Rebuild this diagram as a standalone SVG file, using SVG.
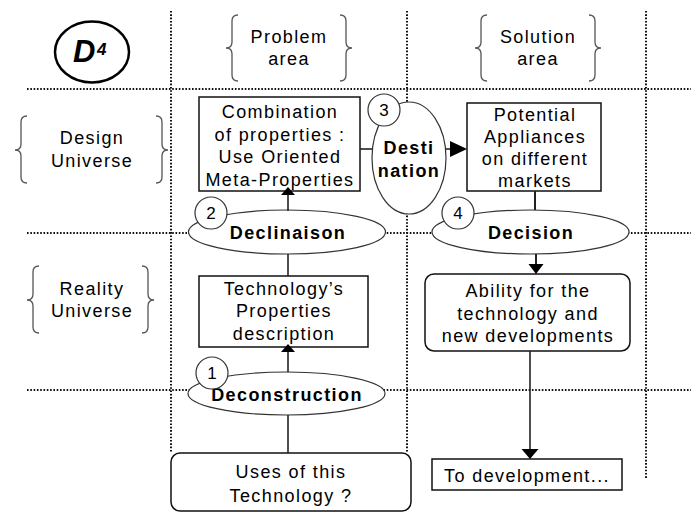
<svg xmlns="http://www.w3.org/2000/svg" width="691" height="513" viewBox="0 0 691 513">
<style>
text{font-family:"Liberation Sans",Arial,sans-serif;font-size:18px;letter-spacing:1.4px;fill:#000;text-anchor:middle}
.b{font-weight:bold}
.n{font-size:17px;letter-spacing:0}
.grid{stroke:#111;stroke-width:2;stroke-dasharray:1.6 1.7;fill:none}
.brace{stroke:#555;stroke-width:1.3;fill:none}
.box{fill:#fff;stroke:#111;stroke-width:1.5}
.ell{fill:#fff;stroke:#333;stroke-width:1.2}
.con{stroke:#222;stroke-width:1.6;fill:none}
.head{fill:#000}
</style>
<g id="grid">
<line class="grid" x1="171" y1="11" x2="171" y2="453"/>
<line class="grid" x1="407" y1="11" x2="407" y2="453"/>
<line class="grid" x1="646" y1="11" x2="646" y2="478"/>
<line class="grid" x1="27" y1="89" x2="691" y2="89"/>
<line class="grid" x1="27" y1="233" x2="691" y2="233"/>
<line class="grid" x1="27" y1="390" x2="691" y2="390"/>
</g>
<g id="d4">
<ellipse cx="92" cy="52" rx="37" ry="30.5" fill="#fff" stroke="#000" stroke-width="2.5"/>
<text x="73" y="62" style="text-anchor:start;font-size:31px;font-weight:bold;font-style:italic;letter-spacing:0">D</text>
<text x="97" y="55" style="text-anchor:start;font-size:17px;font-weight:bold;font-style:italic;letter-spacing:0">4</text>
</g>
<g id="problem-area">
<path class="brace" d="M238 15 Q232 15 232 21 L232 42 Q232 48 226 48 Q232 48 232 54 L232 75 Q232 81 238 81"/>
<path class="brace" d="M340 15 Q346 15 346 21 L346 42 Q346 48 352 48 Q346 48 346 54 L346 75 Q346 81 340 81"/>
<text x="289" y="43">Problem</text>
<text x="289" y="65">area</text>
</g>
<g id="solution-area">
<path class="brace" d="M487 15 Q481 15 481 21 L481 42 Q481 48 475 48 Q481 48 481 54 L481 75 Q481 81 487 81"/>
<path class="brace" d="M589 15 Q595 15 595 21 L595 42 Q595 48 601 48 Q595 48 595 54 L595 75 Q595 81 589 81"/>
<text x="538" y="43">Solution</text>
<text x="538" y="65">area</text>
</g>
<g id="design-universe">
<path class="brace" d="M27 116 Q21 116 21 122 L21 144 Q21 150 15 150 Q21 150 21 156 L21 177 Q21 183 27 183"/>
<path class="brace" d="M156 116 Q162 116 162 122 L162 144 Q162 150 168 150 Q162 150 162 156 L162 177 Q162 183 156 183"/>
<text x="92" y="144">Design</text>
<text x="92" y="167">Universe</text>
</g>
<g id="reality-universe">
<path class="brace" d="M39 266 Q33 266 33 272 L33 294 Q33 300 27 300 Q33 300 33 306 L33 327 Q33 333 39 333"/>
<path class="brace" d="M142 266 Q148 266 148 272 L148 294 Q148 300 154 300 Q148 300 148 306 L148 327 Q148 333 142 333"/>
<text x="92" y="295">Reality</text>
<text x="92" y="317">Universe</text>
</g>
<g id="combination">
<rect class="box" x="199" y="97" width="161" height="94"/>
<text x="280" y="118">Combination</text>
<text x="280" y="140.5">of properties :</text>
<text x="280" y="163">Use Oriented</text>
<text x="280" y="185.5">Meta-Properties</text>
</g>
<g id="destination">
<ellipse class="ell" cx="409" cy="158" rx="37" ry="56"/>
<text class="b" x="409" y="154">Desti</text>
<text class="b" x="409" y="177">nation</text>
<circle class="ell" cx="384" cy="110" r="16"/>
<text class="n" x="384" y="116">3</text>
</g>
<g id="potential">
<rect class="box" x="467" y="103" width="134" height="88"/>
<text x="535" y="121">Potential</text>
<text x="535" y="143">Appliances</text>
<text x="535" y="165">on different</text>
<text x="535" y="187">markets</text>
</g>
<g id="declinaison">
<ellipse class="ell" cx="287" cy="232" rx="98.5" ry="22"/>
<text class="b" x="288" y="239">Declinaison</text>
<circle class="ell" cx="211" cy="213" r="16"/>
<text class="n" x="211" y="219">2</text>
</g>
<g id="decision">
<ellipse class="ell" cx="530.5" cy="232" rx="98.5" ry="22"/>
<text class="b" x="531" y="239">Decision</text>
<circle class="ell" cx="458" cy="213" r="16"/>
<text class="n" x="458" y="219">4</text>
</g>
<g id="tech-properties">
<rect class="box" x="199" y="276" width="169" height="71"/>
<text x="284" y="295">Technology’s</text>
<text x="284" y="317">Properties</text>
<text x="284" y="340">description</text>
</g>
<g id="ability">
<rect class="box" x="425" y="274" width="205" height="77" rx="9"/>
<text x="528" y="297">Ability for the</text>
<text x="528" y="320">technology and</text>
<text x="528" y="342">new developments</text>
</g>
<g id="deconstruction">
<ellipse class="ell" cx="286.5" cy="393.5" rx="98.5" ry="21.5"/>
<text class="b" x="287" y="401">Deconstruction</text>
<circle class="ell" cx="212" cy="373" r="16"/>
<text class="n" x="212" y="379">1</text>
</g>
<g id="uses">
<rect class="box" x="171" y="453" width="240" height="58" rx="9"/>
<text x="291" y="478">Uses of this</text>
<text x="291" y="502">Technology ?</text>
</g>
<g id="to-development">
<rect class="box" x="432" y="459" width="190" height="31"/>
<text x="527" y="482">To development...</text>
</g>
<g id="connectors">
<line class="con" x1="360" y1="149" x2="372" y2="149"/>
<line class="con" x1="446" y1="149" x2="452" y2="149"/>
<polygon class="head" points="450,141 467,149 450,157"/>
<line class="con" x1="288" y1="211" x2="288" y2="195"/>
<polygon class="head" points="281,195 295,195 288,187"/>
<line class="con" x1="288" y1="254" x2="288" y2="276"/>
<line class="con" x1="288" y1="372" x2="288" y2="352"/>
<polygon class="head" points="281,352 295,352 288,344"/>
<line class="con" x1="288" y1="415" x2="288" y2="453"/>
<line class="con" x1="535" y1="191" x2="535" y2="210" style="stroke-width:2"/>
<line class="con" x1="536" y1="254" x2="536" y2="265" style="stroke-width:2"/>
<polygon class="head" points="528.5,264 543.5,264 536,274"/>
<line class="con" x1="530" y1="351" x2="530" y2="450"/>
<polygon class="head" points="521.5,449 538.5,449 530,459"/>
</g>
</svg>
